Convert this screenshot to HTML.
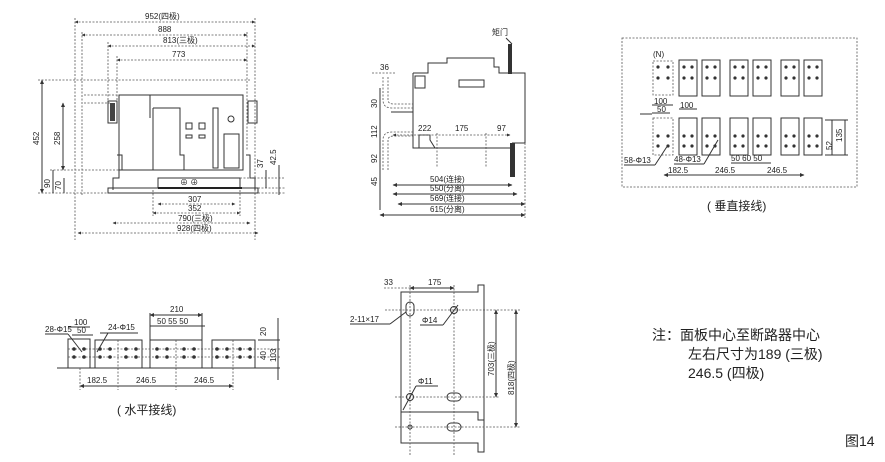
<!DOCTYPE html>
<html><head><meta charset="utf-8"><style>
html,body{margin:0;padding:0;background:#fff;}
svg{display:block;font-family:"Liberation Sans","Noto Sans CJK SC",sans-serif;}
.l{stroke:#333;stroke-width:1;fill:none}
.d{stroke:#555;stroke-width:0.8;fill:none;stroke-dasharray:2,1.5}
.t{font-size:8px;fill:#222}
.tv{font-size:8px;fill:#222}
</style></head><body>
<svg width="885" height="462" viewBox="0 0 885 462" xmlns="http://www.w3.org/2000/svg">
<defs><marker id="a" markerWidth="5" markerHeight="5" refX="4" refY="2.5" orient="auto-start-reverse"><path d="M0,0.5 L4.5,2.5 L0,4.5z" fill="#333"/></marker></defs>

<!-- ===== Front view ===== -->
<g>
<line class="d" x1="75" y1="22" x2="255" y2="22" marker-start="url(#a)" marker-end="url(#a)"/>
<text class="t" x="145" y="19">952(四极)</text>
<line class="d" x1="82" y1="35" x2="247" y2="35" marker-start="url(#a)" marker-end="url(#a)"/>
<text class="t" x="158" y="32">888</text>
<line class="d" x1="108" y1="46" x2="255" y2="46" marker-start="url(#a)" marker-end="url(#a)"/>
<text class="t" x="163" y="43">813(三极)</text>
<line class="d" x1="117" y1="60" x2="247" y2="60" marker-start="url(#a)" marker-end="url(#a)"/>
<text class="t" x="172" y="57">773</text>
<line class="d" x1="75" y1="18" x2="75" y2="240"/>
<line class="d" x1="82" y1="32" x2="82" y2="195"/>
<line class="d" x1="255" y1="18" x2="255" y2="240"/>
<line class="d" x1="247" y1="32" x2="247" y2="150"/>
<line class="d" x1="108" y1="42" x2="108" y2="100"/>
<line class="d" x1="117" y1="56" x2="117" y2="100"/>
<!-- horizontal extension lines -->
<line class="d" x1="38" y1="80" x2="250" y2="80"/>
<line class="d" x1="84" y1="103" x2="110" y2="103"/>
<line class="d" x1="50" y1="170" x2="120" y2="170"/>
<line class="d" x1="38" y1="193" x2="110" y2="193"/>
<line class="d" x1="84" y1="95" x2="120" y2="95"/>
<!-- body -->
<rect class="l" x="119" y="95" width="124" height="75"/>
<rect class="l" x="108" y="101" width="9" height="22" fill="#777"/>
<rect x="110" y="103" width="5" height="18" fill="#444"/>
<rect class="l" x="248" y="101" width="9" height="22"/>
<line class="l" x1="150" y1="95" x2="150" y2="118"/>
<path class="l" d="M153,108 H180 V155 H184 V170"/>
<line class="l" x1="153" y1="108" x2="153" y2="170"/>
<rect class="l" x="186" y="123" width="6" height="6"/><rect class="l" x="199" y="123" width="6" height="6"/>
<rect class="l" x="186" y="135" width="6" height="3"/><rect class="l" x="199" y="135" width="6" height="3"/>
<rect class="l" x="213" y="108" width="5" height="60"/>
<circle class="l" cx="231" cy="119" r="3"/>
<rect class="l" x="224" y="134" width="15" height="34"/>
<path class="l" d="M117,155 H122 V170 H119 V178 H113 V190"/>
<path class="l" d="M246,155 H250 V178 H255 V190"/>
<!-- base -->
<rect class="l" x="158" y="178" width="82" height="10"/>
<line x1="158" y1="188" x2="242" y2="188" stroke="#111" stroke-width="2"/>
<rect class="l" x="108" y="188" width="150" height="5"/>
<text class="t" x="180" y="185" font-size="7">⊕ ⊕</text>
<!-- bottom dims -->
<line class="d" x1="158" y1="204" x2="235" y2="204" marker-start="url(#a)" marker-end="url(#a)"/>
<text class="t" x="188" y="202">307</text>
<line class="d" x1="153" y1="213" x2="240" y2="213" marker-start="url(#a)" marker-end="url(#a)"/>
<text class="t" x="188" y="211">352</text>
<line class="d" x1="113" y1="223" x2="250" y2="223" marker-start="url(#a)" marker-end="url(#a)"/>
<text class="t" x="178" y="221">790(三极)</text>
<line class="d" x1="78" y1="233" x2="258" y2="233" marker-start="url(#a)" marker-end="url(#a)"/>
<text class="t" x="177" y="231">928(四极)</text>
<line class="d" x1="153" y1="190" x2="153" y2="216"/><line class="d" x1="240" y1="190" x2="240" y2="216"/>
<!-- left dims -->
<line class="l" x1="42" y1="80" x2="42" y2="193" marker-start="url(#a)" marker-end="url(#a)"/>
<text class="tv" transform="translate(39,145) rotate(-90)">452</text>
<line class="l" x1="63" y1="103" x2="63" y2="170" marker-start="url(#a)" marker-end="url(#a)"/>
<text class="tv" transform="translate(60,145) rotate(-90)">258</text>
<line class="l" x1="53" y1="170" x2="53" y2="193"/>
<text class="tv" transform="translate(50,188) rotate(-90)">90</text>
<line class="l" x1="64" y1="178" x2="64" y2="193"/>
<text class="tv" transform="translate(61,190) rotate(-90)">70</text>
<!-- right dims -->
<line class="d" x1="240" y1="178" x2="285" y2="178"/><line class="d" x1="258" y1="188" x2="285" y2="188"/><line class="d" x1="258" y1="193" x2="285" y2="193"/>
<line class="l" x1="266" y1="170" x2="266" y2="188"/>
<text class="tv" transform="translate(263,168) rotate(-90)">37</text>
<line class="l" x1="279" y1="165" x2="279" y2="195"/>
<text class="tv" transform="translate(276,165) rotate(-90)">42.5</text>
</g>

<!-- ===== Side view ===== -->
<g>
<text class="t" x="492" y="35">矩门</text>
<line class="l" x1="506" y1="38" x2="512" y2="44"/>
<rect x="508" y="44" width="4" height="30" fill="#333"/>
<path class="l" d="M413,73 H428 V63 H447 V58 H494 V67 H499 V73 H525 V143 H512"/>
<path class="l" d="M413,73 V148 H435 L430,140 V135 H419 V148"/>
<line class="l" x1="413" y1="148" x2="510" y2="148"/>
<rect class="l" x="415" y="76" width="10" height="12"/>
<rect class="l" x="459" y="80" width="25" height="7"/>
<rect x="510" y="143" width="5" height="34" fill="#333"/>
<path class="d" d="M383,77 V100 Q383,108 392,108 H413 M388,77 V100 Q388,104 394,104 H413"/>
<path class="d" d="M383,170 V140 Q383,132 392,132 H413 M388,170 V140 Q388,136 394,136 H413"/>
<line class="l" x1="391" y1="112" x2="413" y2="112"/>
<line class="d" x1="372" y1="73" x2="395" y2="73"/>
<text class="t" x="380" y="70">36</text>
<line class="d" x1="393" y1="135" x2="510" y2="135" marker-start="url(#a)" marker-end="url(#a)"/>
<text class="t" x="418" y="131">222</text><text class="t" x="455" y="131">175</text><text class="t" x="497" y="131">97</text>
<line class="d" x1="437" y1="133" x2="437" y2="168"/><line class="d" x1="486" y1="133" x2="486" y2="168"/>
<line class="l" x1="380" y1="88" x2="380" y2="210"/>
<text class="tv" transform="translate(377,108) rotate(-90)">30</text>
<text class="tv" transform="translate(377,138) rotate(-90)">112</text>
<text class="tv" transform="translate(377,163) rotate(-90)">92</text>
<text class="tv" transform="translate(377,186) rotate(-90)">45</text>
<line class="l" x1="393" y1="185" x2="512" y2="185" marker-start="url(#a)" marker-end="url(#a)"/>
<text class="t" x="430" y="182">504(连接)</text>
<line class="l" x1="393" y1="194" x2="517" y2="194" marker-start="url(#a)" marker-end="url(#a)"/>
<text class="t" x="430" y="191">550(分离)</text>
<line class="l" x1="398" y1="204" x2="525" y2="204" marker-start="url(#a)" marker-end="url(#a)"/>
<text class="t" x="430" y="201">569(连接)</text>
<line class="l" x1="380" y1="215" x2="525" y2="215" marker-start="url(#a)" marker-end="url(#a)"/>
<text class="t" x="430" y="212">615(分离)</text>
<line class="d" x1="525" y1="143" x2="525" y2="218"/>
</g>

<!-- ===== Vertical wiring ===== -->
<g>
<rect class="d" x="622" y="38" width="235" height="149"/>
<text class="t" x="653" y="57">(N)</text>
<rect class="d" x="653" y="61" width="20" height="34"/>
<rect class="d" x="653" y="118" width="20" height="37"/>
<g class="l">
<rect x="679" y="60" width="18" height="36"/><rect x="702" y="60" width="18" height="36"/>
<rect x="730" y="60" width="18" height="36"/><rect x="753" y="60" width="18" height="36"/>
<rect x="781" y="60" width="18" height="36"/><rect x="804" y="60" width="18" height="36"/>
<rect x="679" y="118" width="18" height="37"/><rect x="702" y="118" width="18" height="37"/>
<rect x="730" y="118" width="18" height="37"/><rect x="753" y="118" width="18" height="37"/>
<rect x="781" y="118" width="18" height="37"/><rect x="804" y="118" width="18" height="37"/>
</g>
<g fill="#333">
<circle cx="658" cy="67" r="1.6"/><circle cx="668" cy="67" r="1.6"/><circle cx="658" cy="78" r="1.6"/><circle cx="668" cy="78" r="1.6"/>
<circle cx="684" cy="67" r="1.6"/><circle cx="692" cy="67" r="1.6"/><circle cx="684" cy="78" r="1.6"/><circle cx="692" cy="78" r="1.6"/>
<circle cx="707" cy="67" r="1.6"/><circle cx="715" cy="67" r="1.6"/><circle cx="707" cy="78" r="1.6"/><circle cx="715" cy="78" r="1.6"/>
<circle cx="735" cy="67" r="1.6"/><circle cx="743" cy="67" r="1.6"/><circle cx="735" cy="78" r="1.6"/><circle cx="743" cy="78" r="1.6"/>
<circle cx="758" cy="67" r="1.6"/><circle cx="766" cy="67" r="1.6"/><circle cx="758" cy="78" r="1.6"/><circle cx="766" cy="78" r="1.6"/>
<circle cx="786" cy="67" r="1.6"/><circle cx="794" cy="67" r="1.6"/><circle cx="786" cy="78" r="1.6"/><circle cx="794" cy="78" r="1.6"/>
<circle cx="809" cy="67" r="1.6"/><circle cx="817" cy="67" r="1.6"/><circle cx="809" cy="78" r="1.6"/><circle cx="817" cy="78" r="1.6"/>
<circle cx="658" cy="136" r="1.6"/><circle cx="668" cy="136" r="1.6"/><circle cx="658" cy="146" r="1.6"/><circle cx="668" cy="146" r="1.6"/>
<circle cx="684" cy="136" r="1.6"/><circle cx="692" cy="136" r="1.6"/><circle cx="684" cy="146" r="1.6"/><circle cx="692" cy="146" r="1.6"/>
<circle cx="707" cy="136" r="1.6"/><circle cx="715" cy="136" r="1.6"/><circle cx="707" cy="146" r="1.6"/><circle cx="715" cy="146" r="1.6"/>
<circle cx="735" cy="136" r="1.6"/><circle cx="743" cy="136" r="1.6"/><circle cx="735" cy="146" r="1.6"/><circle cx="743" cy="146" r="1.6"/>
<circle cx="758" cy="136" r="1.6"/><circle cx="766" cy="136" r="1.6"/><circle cx="758" cy="146" r="1.6"/><circle cx="766" cy="146" r="1.6"/>
<circle cx="786" cy="136" r="1.6"/><circle cx="794" cy="136" r="1.6"/><circle cx="786" cy="146" r="1.6"/><circle cx="794" cy="146" r="1.6"/>
<circle cx="809" cy="136" r="1.6"/><circle cx="817" cy="136" r="1.6"/><circle cx="809" cy="146" r="1.6"/><circle cx="817" cy="146" r="1.6"/>
</g>
<line class="l" x1="652" y1="105" x2="673" y2="105"/><text class="t" x="654" y="104">100</text>
<line class="l" x1="652" y1="113" x2="670" y2="113"/><text class="t" x="657" y="112">50</text>
<line class="l" x1="640" y1="114" x2="652" y2="114"/>
<line class="l" x1="679" y1="109" x2="697" y2="109"/><text class="t" x="680" y="108">100</text>
<text class="t" x="624" y="163">58-Φ13</text><line class="l" x1="624" y1="165" x2="655" y2="165"/><line class="l" x1="655" y1="165" x2="668" y2="145"/>
<text class="t" x="674" y="162">48-Φ13</text><line class="l" x1="674" y1="164" x2="704" y2="164"/><line class="l" x1="704" y1="164" x2="718" y2="140"/>
<text class="t" x="731" y="161">50 60 50</text><line class="l" x1="731" y1="163" x2="771" y2="163"/>
<line class="l" x1="664" y1="175" x2="804" y2="175" marker-start="url(#a)" marker-end="url(#a)"/>
<text class="t" x="668" y="173">182.5</text><text class="t" x="715" y="173">246.5</text><text class="t" x="767" y="173">246.5</text>
<line class="l" x1="832" y1="120" x2="832" y2="155"/><text class="tv" transform="translate(842,142) rotate(-90)">135</text>
<text class="tv" transform="translate(832,150) rotate(-90)">52</text>
<line class="l" x1="825" y1="120" x2="848" y2="120"/><line class="l" x1="825" y1="155" x2="848" y2="155"/>
<line class="l" x1="845" y1="120" x2="845" y2="155"/>
<text x="707" y="210" font-size="12" fill="#222">( 垂直接线)</text>
</g>

<!-- ===== Horizontal wiring ===== -->
<g>
<line class="l" x1="57" y1="368" x2="280" y2="368"/>
<g class="l">
<rect x="68" y="339" width="22" height="29"/>
<rect x="95" y="340" width="47" height="28"/>
<rect x="150" y="340" width="52" height="28"/>
<rect x="212" y="340" width="43" height="28"/>
</g>
<line class="d" x1="68" y1="349" x2="280" y2="349"/><line class="d" x1="68" y1="357" x2="280" y2="357"/>
<line class="d" x1="118" y1="340" x2="118" y2="368"/><line class="d" x1="176" y1="340" x2="176" y2="368"/><line class="d" x1="233" y1="340" x2="233" y2="368"/>
<g fill="#333">
<circle cx="74" cy="349" r="1.8"/><circle cx="84" cy="349" r="1.8"/><circle cx="74" cy="357" r="1.8"/><circle cx="84" cy="357" r="1.8"/>
<circle cx="100" cy="349" r="1.8"/><circle cx="110" cy="349" r="1.8"/><circle cx="126" cy="349" r="1.8"/><circle cx="136" cy="349" r="1.8"/>
<circle cx="100" cy="357" r="1.8"/><circle cx="110" cy="357" r="1.8"/><circle cx="126" cy="357" r="1.8"/><circle cx="136" cy="357" r="1.8"/>
<circle cx="157" cy="349" r="1.8"/><circle cx="167" cy="349" r="1.8"/><circle cx="184" cy="349" r="1.8"/><circle cx="194" cy="349" r="1.8"/>
<circle cx="157" cy="357" r="1.8"/><circle cx="167" cy="357" r="1.8"/><circle cx="184" cy="357" r="1.8"/><circle cx="194" cy="357" r="1.8"/>
<circle cx="217" cy="349" r="1.8"/><circle cx="227" cy="349" r="1.8"/><circle cx="240" cy="349" r="1.8"/><circle cx="250" cy="349" r="1.8"/>
<circle cx="217" cy="357" r="1.8"/><circle cx="227" cy="357" r="1.8"/><circle cx="240" cy="357" r="1.8"/><circle cx="250" cy="357" r="1.8"/>
</g>
<text class="t" x="74" y="325">100</text><line class="l" x1="68" y1="327" x2="90" y2="327"/>
<text class="t" x="77" y="333">50</text><line class="l" x1="72" y1="335" x2="93" y2="335"/>
<text class="t" x="45" y="332">28-Φ15</text><line class="l" x1="45" y1="334" x2="68" y2="334"/><line class="l" x1="68" y1="334" x2="82" y2="352"/>
<text class="t" x="108" y="330">24-Φ15</text><line class="l" x1="100" y1="333" x2="138" y2="333"/><line class="l" x1="108" y1="333" x2="97" y2="352"/>
<text class="t" x="170" y="312">210</text><line class="l" x1="150" y1="315" x2="202" y2="315" marker-start="url(#a)" marker-end="url(#a)"/>
<line class="l" x1="150" y1="313" x2="150" y2="340"/><line class="l" x1="202" y1="313" x2="202" y2="340"/>
<text class="t" x="157" y="324">50 55 50</text><line class="l" x1="150" y1="326" x2="205" y2="326"/>
<line class="l" x1="258" y1="340" x2="280" y2="340"/>
<line class="l" x1="278" y1="318" x2="278" y2="380"/>
<text class="tv" transform="translate(266,336) rotate(-90)">20</text>
<text class="tv" transform="translate(266,360) rotate(-90)">40</text>
<text class="tv" transform="translate(276,362) rotate(-90)">103</text>
<line class="l" x1="80" y1="386" x2="233" y2="386" marker-start="url(#a)" marker-end="url(#a)"/>
<line class="d" x1="80" y1="368" x2="80" y2="390"/><line class="d" x1="118" y1="368" x2="118" y2="390"/><line class="d" x1="176" y1="368" x2="176" y2="390"/><line class="d" x1="233" y1="368" x2="233" y2="390"/>
<text class="t" x="87" y="383">182.5</text><text class="t" x="136" y="383">246.5</text><text class="t" x="194" y="383">246.5</text>
<text x="117" y="414" font-size="12" fill="#222">( 水平接线)</text>
</g>

<!-- ===== Mounting plate ===== -->
<g>
<path class="l" d="M401,292 H478 V285 H484 V452 H478 V443 H401 Z"/>
<path class="l" d="M401,412 H478 V420 H484"/>
<line class="d" x1="410" y1="285" x2="410" y2="455"/>
<line class="d" x1="454" y1="285" x2="454" y2="455"/>
<line class="d" x1="385" y1="310" x2="520" y2="310"/>
<line class="d" x1="395" y1="397" x2="500" y2="397"/>
<line class="d" x1="395" y1="427" x2="520" y2="427"/>
<rect class="l" x="406" y="302" width="8" height="14" rx="4"/>
<circle class="l" cx="454" cy="310" r="3.5"/>
<circle class="l" cx="410" cy="397" r="3.5"/>
<rect class="l" x="447" y="393" width="14" height="8" rx="4"/>
<circle class="l" cx="410" cy="427" r="2"/>
<rect class="l" x="447" y="423" width="14" height="8" rx="4"/>
<text class="t" x="384" y="285">33</text><line class="d" x1="384" y1="288" x2="410" y2="288"/>
<text class="t" x="428" y="285">175</text><line class="l" x1="410" y1="288" x2="454" y2="288" marker-start="url(#a)" marker-end="url(#a)"/>
<text class="t" x="350" y="322">2-11×17</text><line class="l" x1="350" y1="324" x2="390" y2="324"/><line class="l" x1="390" y1="324" x2="406" y2="312"/>
<text class="t" x="422" y="323">Φ14</text><line class="l" x1="420" y1="325" x2="443" y2="325"/><line class="l" x1="443" y1="325" x2="458" y2="305"/>
<text class="t" x="418" y="384">Φ11</text><line class="l" x1="416" y1="386" x2="438" y2="386"/><line class="l" x1="416" y1="386" x2="403" y2="410"/>
<line class="l" x1="496" y1="310" x2="496" y2="397" marker-start="url(#a)" marker-end="url(#a)"/>
<text class="tv" transform="translate(494,376) rotate(-90)">703(三极)</text>
<line class="l" x1="516" y1="310" x2="516" y2="427" marker-start="url(#a)" marker-end="url(#a)"/>
<text class="tv" transform="translate(514,395) rotate(-90)">818(四极)</text>
</g>

<!-- ===== Notes ===== -->
<text x="652" y="340" font-size="14" fill="#222">注：面板中心至断路器中心</text>
<text x="688" y="359" font-size="14" fill="#222">左右尺寸为189 (三极)</text>
<text x="688" y="378" font-size="14" fill="#222">246.5 (四极)</text>
<text x="845" y="446" font-size="14" fill="#222">图14</text>
</svg>
</body></html>
